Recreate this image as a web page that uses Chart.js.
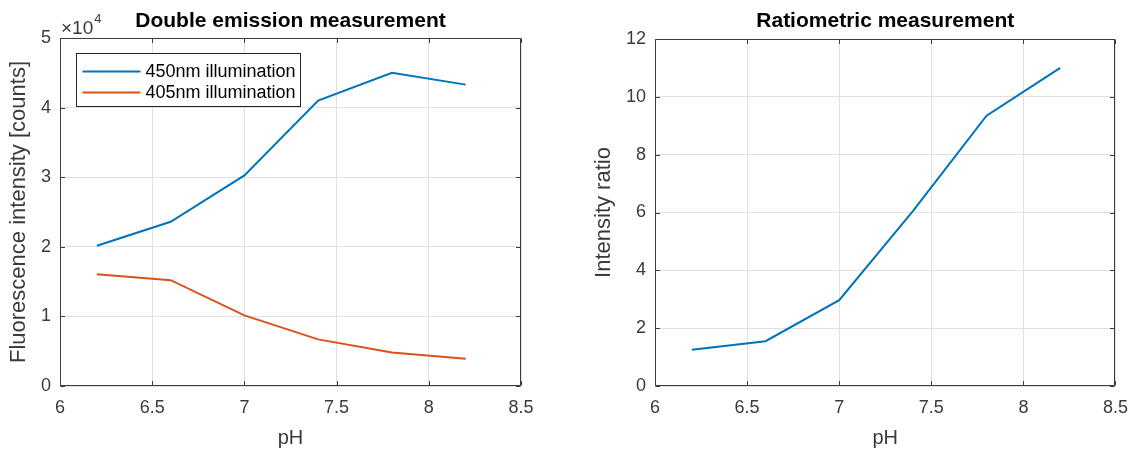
<!DOCTYPE html>
<html>
<head>
<meta charset="utf-8">
<title>pH measurement</title>
<script src="https://cdn.jsdelivr.net/npm/chart.js@4/dist/chart.umd.min.js"></script>
<style>
  html, body { margin: 0; padding: 0; background: #fff; }
  #wrap { position: relative; width: 1139px; height: 450px; }
  canvas { position: absolute; top: 0; }
  #emissionChart { left: 0; }
  #ratioChart { left: 570px; }
</style>
</head>
<body>
<div id="wrap">
  <canvas id="emissionChart" width="570" height="450"></canvas>
  <canvas id="ratioChart" width="569" height="450"></canvas>
</div>
<script>
// measured pH points
const phValues = [6.2, 6.6, 7.0, 7.4, 7.8, 8.2];
// fluorescence counts for the two excitation wavelengths
const counts450 = [20150, 23600, 30250, 41000, 45000, 43300];
const counts405 = [16050, 15200, 10150, 6700, 4800, 3900];
// 450/405 intensity ratio
const ratioValues = [1.25, 1.55, 2.97, 6.05, 9.35, 11.0];

const seriesLabels = ["450nm illumination", "405nm illumination"];
const xTicks = { min: 6, max: 8.5, step: 0.5 };

const FONT = "'Liberation Sans', Arial, Helvetica, sans-serif";
const BLUE = "#0072BD";
const ORANGE = "#D95319";
const AXIS = "#3c3c3c";
const GRID = "#e0e0e0";
const TEXT = "#3a3a3a";

function points(ys){
  return phValues.map((x, i) => ({ x, y: ys[i] }));
}

// box around the axes, inward tick marks, optional legend and exponent label
const matlabAxes = {
  id: "matlabAxes",
  afterDraw(chart, args, opts){
    const ctx = chart.ctx;
    const a = chart.chartArea;
    const xs = chart.scales.x;
    const ys = chart.scales.y;
    const L = Math.round(a.left) + 0.5, R = Math.round(a.right) - 0.5;
    const T = Math.round(a.top) + 0.5, B = Math.round(a.bottom) - 0.5;
    ctx.save();
    ctx.strokeStyle = AXIS;
    ctx.lineWidth = 1;
    ctx.beginPath();
    ctx.rect(L, T, R - L, B - T);
    const tl = 4.5;
    xs.ticks.forEach(t => {
      const px = Math.round(xs.getPixelForValue(t.value)) + 0.5;
      ctx.moveTo(px, B); ctx.lineTo(px, B - tl);
      ctx.moveTo(px, T); ctx.lineTo(px, T + tl);
    });
    ys.ticks.forEach(t => {
      const py = Math.round(ys.getPixelForValue(t.value)) + 0.5;
      ctx.moveTo(L, py); ctx.lineTo(L + tl, py);
      ctx.moveTo(R, py); ctx.lineTo(R - tl, py);
    });
    ctx.stroke();

    if(opts.exponent){
      ctx.fillStyle = TEXT;
      ctx.textBaseline = "alphabetic";
      ctx.textAlign = "left";
      ctx.font = "19px " + FONT;
      const base = "\u00d710";
      ctx.fillText(base, a.left + 1, a.top - 4);
      const w = ctx.measureText(base).width;
      ctx.font = "13px " + FONT;
      ctx.fillText(opts.exponent, a.left + 1 + w + 1, a.top - 15);
    }

    if(opts.legend){
      const bx = Math.round(a.left + 16) + 0.5;
      const by = Math.round(a.top + 15) + 0.5;
      const bw = 224, bh = 53;
      ctx.fillStyle = "#fff";
      ctx.fillRect(bx, by, bw, bh);
      ctx.strokeStyle = "#262626";
      ctx.strokeRect(bx, by, bw, bh);
      ctx.font = "18px " + FONT;
      ctx.textBaseline = "middle";
      ctx.textAlign = "left";
      chart.data.datasets.forEach((ds, i) => {
        const cy = by + 18 + i * 21;
        ctx.strokeStyle = ds.borderColor;
        ctx.lineWidth = 2;
        ctx.beginPath();
        ctx.moveTo(bx + 6, cy); ctx.lineTo(bx + 64, cy);
        ctx.stroke();
        ctx.fillStyle = "#000";
        ctx.fillText(ds.label, bx + 69, cy + 1);
      });
    }
    ctx.restore();
  }
};

function buildChart(canvasId, datasets, cfg){
  const ctx = document.getElementById(canvasId).getContext("2d");
  const canvas = ctx.canvas;
  return new Chart(ctx, {
    type: "line",
    data: { datasets },
    plugins: [matlabAxes],
    options: {
      responsive: false,
      animation: false,
      events: [],
      layout: { padding: { left: 0, top: 0, bottom: 0, right: canvas.width - cfg.right } },
      elements: {
        point: { radius: 0 },
        line: { borderWidth: 2, tension: 0 }
      },
      plugins: {
        legend: { display: false },
        tooltip: { enabled: false },
        title: {
          display: true,
          text: cfg.title,
          fullSize: false,
          color: "#000",
          font: { family: FONT, size: 21, weight: "bold" },
          padding: { top: 9, bottom: cfg.top - 34.2 }
        },
        matlabAxes: { legend: cfg.legend, exponent: cfg.exponent }
      },
      scales: {
        x: {
          type: "linear",
          min: xTicks.min,
          max: xTicks.max,
          afterFit(scale){ scale.height = canvas.height - cfg.bottom; },
          afterBuildTicks(scale){
            const t = [];
            for(let v = xTicks.min; v <= xTicks.max + 1e-9; v += xTicks.step) t.push({ value: +v.toFixed(2) });
            scale.ticks = t;
          },
          border: { display: false },
          grid: { color: GRID, lineWidth: 1, drawTicks: false },
          ticks: {
            color: TEXT,
            font: { family: FONT, size: 18 },
            padding: 11,
            maxRotation: 0,
            callback: v => String(v)
          },
          title: {
            display: true,
            text: "pH",
            color: TEXT,
            font: { family: FONT, size: 20 },
            padding: { top: 0, bottom: 0 }
          }
        },
        y: {
          min: cfg.yMin,
          max: cfg.yMax,
          afterFit(scale){ scale.width = cfg.left; },
          border: { display: false },
          grid: { color: GRID, lineWidth: 1, drawTicks: false },
          ticks: {
            color: TEXT,
            font: { family: FONT, size: 18 },
            padding: 9,
            stepSize: cfg.yStep,
            callback: cfg.yFormat
          },
          title: {
            display: true,
            text: cfg.yTitle,
            color: TEXT,
            font: { family: FONT, size: 22 },
            padding: { top: cfg.yTitlePad, bottom: 0 }
          }
        }
      }
    }
  });
}

buildChart("emissionChart", [
  { label: seriesLabels[0], data: points(counts450), borderColor: BLUE, backgroundColor: BLUE },
  { label: seriesLabels[1], data: points(counts405), borderColor: ORANGE, backgroundColor: ORANGE }
], {
  title: "Double emission measurement",
  left: 60, right: 521, top: 38, bottom: 386,
  yMin: 0, yMax: 50000, yStep: 10000,
  yFormat: v => String(v / 10000),
  yTitle: "Fluorescence intensity [counts]",
  yTitlePad: 6,
  legend: true,
  exponent: "4"
});

buildChart("ratioChart", [
  { label: "Intensity ratio", data: points(ratioValues), borderColor: BLUE, backgroundColor: BLUE }
], {
  title: "Ratiometric measurement",
  left: 85, right: 547, top: 39, bottom: 386,
  yMin: 0, yMax: 12, yStep: 2,
  yFormat: v => String(v),
  yTitle: "Intensity ratio",
  yTitlePad: 21,
  legend: false,
  exponent: null
});
</script>
</body>
</html>
